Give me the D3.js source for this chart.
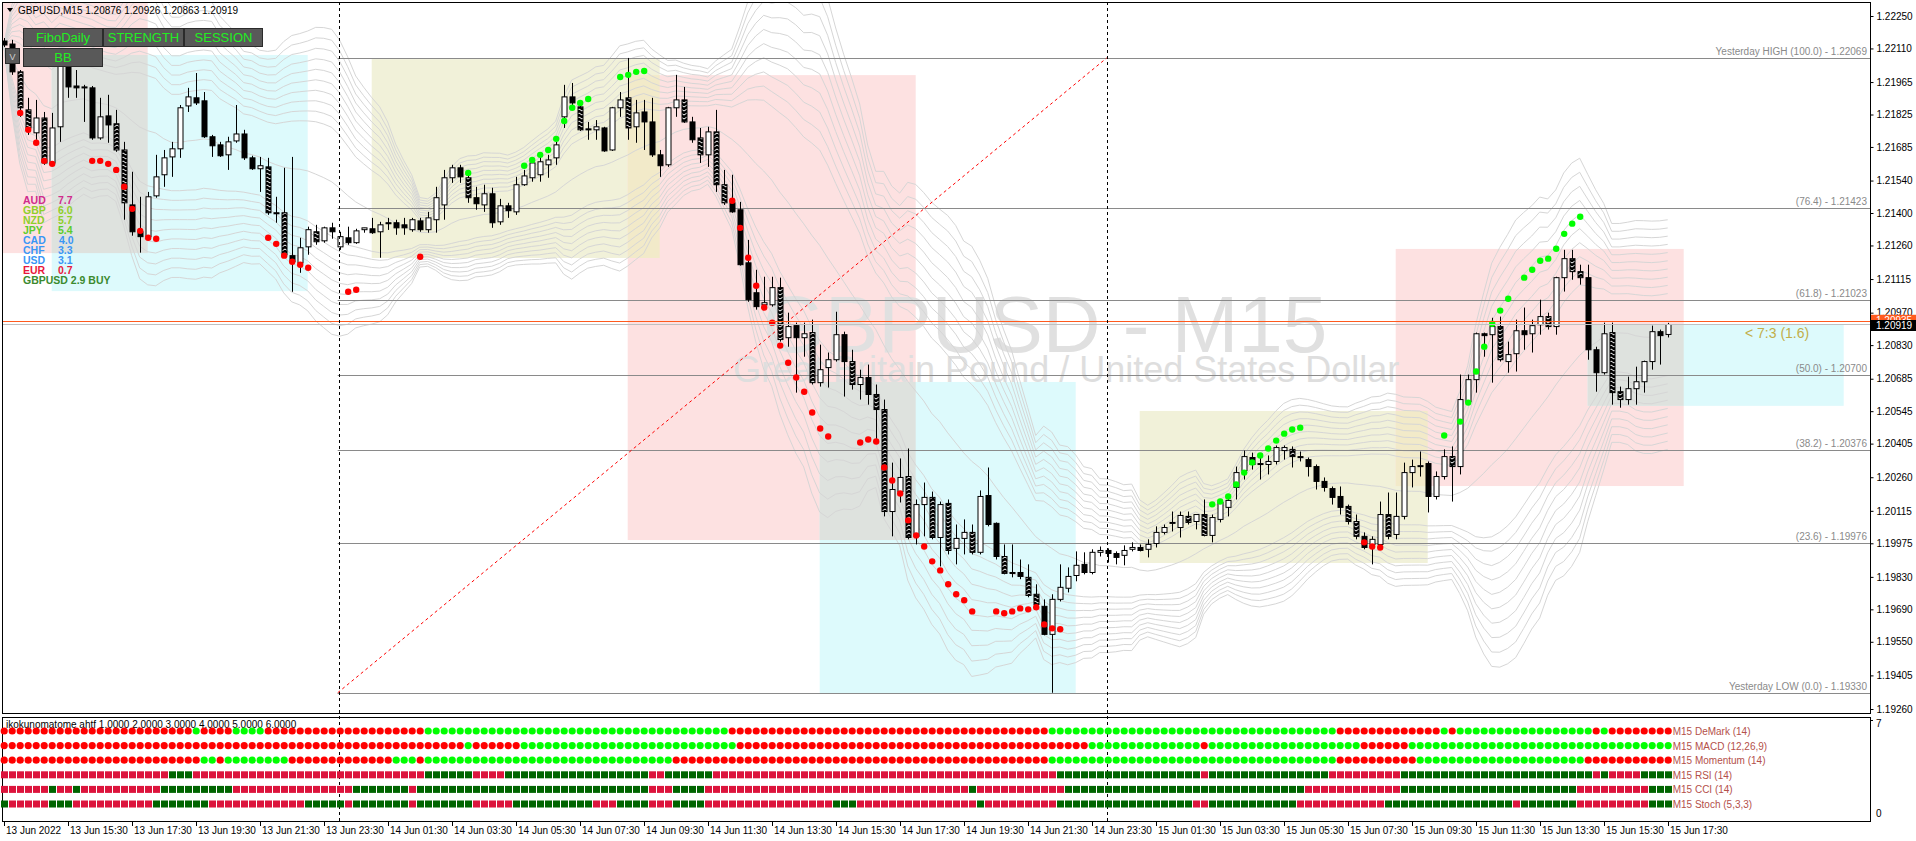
<!DOCTYPE html>
<html>
<head>
<meta charset="utf-8">
<script src="https://d3js.org/d3.v7.min.js"></script>
<style>
  body { margin: 0; background: #fff; }
  svg { display: block; font-family: "Liberation Sans", Arial, sans-serif; }
</style>
</head>
<body>
<script>
// GBPUSD M15, one bar per 15 minutes, bar 0 = 13 Jun 13:30, bar 208 = 15 Jun 17:30
// [open, high, low, close]
const candles = [
 [1.22142,1.22155,1.22116,1.22125],[1.22129,1.22147,1.21996,1.22009],[1.22009,1.22017,1.21815,1.21854],[1.21845,1.21897,1.21737,1.21767],
 [1.21746,1.21888,1.21716,1.21810],[1.21810,1.21836,1.21608,1.21616],[1.21616,1.21832,1.21608,1.21767],[1.21772,1.22095,1.21707,1.22052],
 [1.22043,1.22082,1.21897,1.21944],[1.21948,1.22017,1.21897,1.21940],[1.21944,1.21953,1.21793,1.21940],[1.21940,1.21948,1.21716,1.21724],
 [1.21724,1.21897,1.21716,1.21815],[1.21819,1.21910,1.21703,1.21780],[1.21785,1.21845,1.21664,1.21672],[1.21672,1.21707,1.21371,1.21444],
 [1.21435,1.21578,1.21302,1.21319],[1.21319,1.21470,1.21229,1.21298],[1.21298,1.21491,1.21293,1.21470],[1.21474,1.21651,1.21466,1.21556],
 [1.21565,1.21672,1.21513,1.21638],[1.21642,1.21707,1.21556,1.21677],[1.21677,1.21866,1.21638,1.21854],[1.21862,1.21940,1.21836,1.21901],
 [1.21897,1.22004,1.21866,1.21875],[1.21884,1.21922,1.21724,1.21729],[1.21729,1.21737,1.21642,1.21690],[1.21694,1.21707,1.21642,1.21647],
 [1.21651,1.21729,1.21586,1.21707],[1.21711,1.21866,1.21703,1.21741],[1.21741,1.21759,1.21629,1.21638],[1.21638,1.21647,1.21586,1.21591],
 [1.21591,1.21642,1.21491,1.21604],[1.21599,1.21638,1.21392,1.21401],[1.21401,1.21470,1.21358,1.21397],[1.21401,1.21595,1.21207,1.21220],
 [1.21216,1.21642,1.21060,1.21190],[1.21185,1.21293,1.21142,1.21250],[1.21254,1.21341,1.21220,1.21328],[1.21319,1.21349,1.21263,1.21276],
 [1.21280,1.21341,1.21272,1.21336],[1.21336,1.21358,1.21289,1.21319],[1.21254,1.21319,1.21241,1.21298],[1.21293,1.21341,1.21263,1.21272],
 [1.21272,1.21332,1.21267,1.21323],[1.21328,1.21336,1.21315,1.21336],[1.21332,1.21379,1.21310,1.21315],[1.21319,1.21362,1.21207,1.21349],
 [1.21358,1.21379,1.21327,1.21354],[1.21358,1.21371,1.21306,1.21336],[1.21349,1.21379,1.21306,1.21336],[1.21328,1.21379,1.21319,1.21371],
 [1.21366,1.21379,1.21319,1.21328],[1.21328,1.21405,1.21315,1.21379],[1.21371,1.21513,1.21315,1.21466],[1.21435,1.21586,1.21371,1.21552],
 [1.21552,1.21608,1.21530,1.21595],[1.21595,1.21608,1.21530,1.21556],[1.21552,1.21560,1.21444,1.21466],[1.21466,1.21513,1.21414,1.21440],
 [1.21435,1.21522,1.21405,1.21483],[1.21483,1.21509,1.21336,1.21358],[1.21362,1.21461,1.21349,1.21431],[1.21431,1.21444,1.21379,1.21410],
 [1.21405,1.21556,1.21392,1.21522],[1.21522,1.21586,1.21517,1.21560],[1.21552,1.21638,1.21535,1.21616],[1.21565,1.21651,1.21535,1.21621],
 [1.21608,1.21651,1.21552,1.21629],[1.21638,1.21707,1.21608,1.21694],[1.21815,1.21953,1.21767,1.21901],[1.21901,1.21961,1.21845,1.21875],
 [1.21858,1.21875,1.21754,1.21759],[1.21763,1.21793,1.21716,1.21759],[1.21759,1.21801,1.21716,1.21772],[1.21767,1.21772,1.21664,1.21668],
 [1.21672,1.21858,1.21668,1.21854],[1.21854,1.21922,1.21815,1.21888],[1.21897,1.22069,1.21716,1.21767],[1.21772,1.21888,1.21703,1.21832],
 [1.21836,1.21888,1.21672,1.21793],[1.21793,1.21897,1.21642,1.21651],[1.21651,1.21672,1.21556,1.21604],[1.21608,1.21858,1.21599,1.21854],
 [1.21854,1.21996,1.21815,1.21888],[1.21888,1.21944,1.21789,1.21793],[1.21793,1.21815,1.21703,1.21716],[1.21724,1.21767,1.21616,1.21651],
 [1.21651,1.21772,1.21599,1.21750],[1.21750,1.21845,1.21491,1.21522],[1.21522,1.21586,1.21435,1.21444],[1.21444,1.21565,1.21401,1.21405],
 [1.21414,1.21448,1.21173,1.21177],[1.21185,1.21284,1.21017,1.21026],[1.21056,1.21155,1.20983,1.20996],[1.21004,1.21125,1.20983,1.21013],
 [1.21004,1.21125,1.20996,1.21078],[1.21078,1.21121,1.20845,1.20854],[1.20862,1.20970,1.20823,1.20910],[1.20914,1.20927,1.20625,1.20862],
 [1.20862,1.20927,1.20780,1.20879],[1.20884,1.20940,1.20660,1.20668],[1.20668,1.20832,1.20651,1.20724],[1.20733,1.20798,1.20647,1.20767],
 [1.20767,1.20974,1.20759,1.20875],[1.20875,1.20888,1.20608,1.20759],[1.20759,1.20810,1.20638,1.20660],[1.20660,1.20724,1.20595,1.20690],
 [1.20690,1.20746,1.20573,1.20617],[1.20617,1.20660,1.20423,1.20552],[1.20552,1.20595,1.20091,1.20112],[1.20112,1.20323,1.20005,1.20207],
 [1.20198,1.20341,1.20151,1.20259],[1.20263,1.20384,1.19992,1.20000],[1.20005,1.20164,1.19970,1.20142],[1.20142,1.20237,1.20005,1.20173],
 [1.20173,1.20198,1.19992,1.20000],[1.20000,1.20155,1.19875,1.20142],[1.20147,1.20164,1.19927,1.19944],[1.19953,1.20056,1.19884,1.19996],
 [1.19996,1.20078,1.19927,1.20022],[1.20022,1.20056,1.19927,1.19936],[1.19936,1.20203,1.19927,1.20177],[1.20181,1.20302,1.20048,1.20056],
 [1.20061,1.20065,1.19905,1.19918],[1.19918,1.19970,1.19841,1.19845],[1.19845,1.19970,1.19828,1.19849],[1.19849,1.19905,1.19820,1.19832],
 [1.19828,1.19884,1.19742,1.19750],[1.19755,1.19798,1.19707,1.19711],[1.19703,1.19733,1.19578,1.19582],[1.19582,1.19755,1.19330,1.19733],
 [1.19733,1.19884,1.19724,1.19785],[1.19781,1.19871,1.19763,1.19832],[1.19836,1.19940,1.19811,1.19880],[1.19884,1.19936,1.19841,1.19849],
 [1.19849,1.19949,1.19841,1.19936],[1.19936,1.19961,1.19918,1.19944],[1.19944,1.19953,1.19892,1.19931],[1.19931,1.19940,1.19884,1.19914],
 [1.19923,1.19966,1.19880,1.19944],[1.19949,1.19979,1.19940,1.19957],[1.19957,1.19970,1.19940,1.19944],[1.19949,1.19992,1.19914,1.19970],
 [1.19974,1.20048,1.19957,1.20022],[1.20022,1.20056,1.20013,1.20043],[1.20061,1.20112,1.20026,1.20065],[1.20043,1.20112,1.20000,1.20095],
 [1.20091,1.20112,1.20056,1.20065],[1.20069,1.20099,1.20035,1.20099],[1.20099,1.20164,1.20005,1.20009],[1.20009,1.20099,1.19979,1.20086],
 [1.20078,1.20164,1.20065,1.20151],[1.20130,1.20186,1.20091,1.20160],[1.20216,1.20306,1.20164,1.20280],[1.20289,1.20375,1.20250,1.20349],
 [1.20345,1.20366,1.20293,1.20315],[1.20315,1.20345,1.20250,1.20319],[1.20315,1.20354,1.20272,1.20328],[1.20328,1.20397,1.20315,1.20388],
 [1.20375,1.20397,1.20336,1.20388],[1.20380,1.20393,1.20302,1.20349],[1.20349,1.20371,1.20328,1.20345],[1.20336,1.20345,1.20263,1.20306],
 [1.20306,1.20315,1.20207,1.20242],[1.20242,1.20259,1.20198,1.20216],[1.20211,1.20220,1.20142,1.20173],[1.20177,1.20220,1.20099,1.20130],
 [1.20134,1.20142,1.20056,1.20069],[1.20069,1.20099,1.19992,1.20005],[1.20005,1.20022,1.19949,1.19957],[1.19970,1.20005,1.19884,1.19992],
 [1.19970,1.20155,1.19961,1.20099],[1.20099,1.20194,1.19992,1.20005],[1.20013,1.20194,1.19992,1.20091],[1.20091,1.20323,1.20078,1.20280],
 [1.20280,1.20336,1.20216,1.20306],[1.20306,1.20371,1.20263,1.20310],[1.20319,1.20328,1.20108,1.20177],[1.20177,1.20285,1.20164,1.20263],
 [1.20263,1.20380,1.20250,1.20349],[1.20349,1.20393,1.20155,1.20306],[1.20306,1.20703,1.20272,1.20595],[1.20586,1.20703,1.20573,1.20681],
 [1.20681,1.20884,1.20625,1.20879],[1.20879,1.20884,1.20780,1.20871],[1.20875,1.20948,1.20668,1.20910],[1.20910,1.20953,1.20759,1.20767],
 [1.20759,1.20845,1.20711,1.20789],[1.20793,1.20940,1.20716,1.20892],[1.20892,1.20992,1.20810,1.20875],[1.20879,1.20940,1.20798,1.20914],
 [1.20918,1.21026,1.20875,1.20953],[1.20953,1.20970,1.20897,1.20910],[1.20910,1.21125,1.20875,1.21121],[1.21121,1.21241,1.21061,1.21203],
 [1.21203,1.21241,1.21112,1.21147],[1.21147,1.21177,1.21091,1.21121],[1.21121,1.21177,1.20767,1.20810],[1.20810,1.20823,1.20629,1.20711],
 [1.20711,1.20927,1.20703,1.20879],[1.20884,1.20927,1.20573,1.20625],[1.20629,1.20651,1.20560,1.20595],[1.20595,1.20694,1.20573,1.20642],
 [1.20642,1.20737,1.20573,1.20672],[1.20672,1.20763,1.20625,1.20759],[1.20759,1.20914,1.20724,1.20888],[1.20888,1.20897,1.20746,1.20871],
 [1.20876,1.20926,1.20863,1.20919]
];

// bars whose body is drawn hatched on the original
const hatchedBars = [2,3,5,14,15,33,35,39,58,72,78,85,87,89,90,97,101,106,109,110,113,116,118,121,125,128,129,148,150,161,168,169,173,181,187,193,196,197,201,202];

// trailing dots: [bar, price, colour]
const trailDots = [
 [2,1.21832,"r"],[3,1.21759,"r"],[4,1.21703,"r"],[5,1.21625,"r"],[6,1.21612,"r"],
 [11,1.21625,"r"],[12,1.21625,"r"],[13,1.21612,"r"],[14,1.21586,"r"],[15,1.21513,"r"],[16,1.21418,"r"],[17,1.21323,"r"],[18,1.21293,"r"],[19,1.21289,"r"],
 [33,1.21293,"r"],[34,1.21267,"r"],[35,1.21216,"r"],[36,1.21190,"r"],[37,1.21177,"r"],[38,1.21164,"r"],[43,1.21060,"r"],[44,1.21069,"r"],[52,1.21211,"r"],
 [58,1.21573,"g"],[65,1.21604,"g"],[66,1.21629,"g"],[67,1.21651,"g"],[68,1.21672,"g"],[69,1.21720,"g"],[70,1.21797,"g"],[71,1.21854,"g"],[72,1.21875,"g"],[73,1.21892,"g"],
 [77,1.21987,"g"],[78,1.21996,"g"],[79,1.22009,"g"],[80,1.22013,"g"],
 [91,1.21453,"r"],[92,1.21336,"r"],[93,1.21207,"r"],[94,1.21086,"r"],[95,1.20992,"r"],[96,1.20927,"r"],[97,1.20828,"r"],[98,1.20754,"r"],[99,1.20690,"r"],
 [100,1.20629,"r"],[101,1.20539,"r"],[102,1.20470,"r"],[103,1.20436,"r"],[107,1.20410,"r"],[108,1.20423,"r"],[109,1.20414,"r"],[110,1.20302,"r"],
 [111,1.20246,"r"],[112,1.20190,"r"],[113,1.20074,"r"],[114,1.20009,"r"],[115,1.19961,"r"],[116,1.19897,"r"],[117,1.19858,"r"],[118,1.19798,"r"],
 [119,1.19755,"r"],[120,1.19729,"r"],[121,1.19681,"r"],[124,1.19681,"r"],[125,1.19673,"r"],[126,1.19681,"r"],[127,1.19694,"r"],[128,1.19690,"r"],
 [129,1.19699,"r"],[130,1.19625,"r"],[131,1.19608,"r"],[132,1.19604,"r"],
 [151,1.20143,"g"],[152,1.20155,"g"],[153,1.20177,"g"],[154,1.20229,"g"],[155,1.20280,"g"],[156,1.20324,"g"],[157,1.20354,"g"],[158,1.20384,"g"],
 [159,1.20418,"g"],[160,1.20448,"g"],[161,1.20466,"g"],[162,1.20474,"g"],
 [170,1.19979,"r"],[171,1.19961,"r"],[172,1.19957,"r"],
 [180,1.20440,"g"],[182,1.20500,"g"],[183,1.20582,"g"],[184,1.20716,"g"],[185,1.20823,"g"],[186,1.20922,"g"],[187,1.20979,"g"],[188,1.21030,"g"],
 [190,1.21121,"g"],[191,1.21155,"g"],[192,1.21194,"g"],[193,1.21203,"g"],[194,1.21246,"g"],[195,1.21310,"g"],[196,1.21354,"g"],[197,1.21384,"g"]
];

// sessions (bar from, bar to, high, low, kind)
const sessFrom = [-1, 6, 46, 78, 102, 142, 174, 198];
const sessTo   = [18, 38, 82, 114, 134, 178, 210, 230];
const sessHigh = [1.22360, 1.22082, 1.22064, 1.21995, 1.20671, 1.20546, 1.21245, 1.20921];
const sessLow  = [1.21227, 1.21063, 1.21206, 1.19989, 1.19329, 1.19890, 1.20222, 1.20568];
const sessKind = ["london", "newyork", "tokyo", "london", "newyork", "tokyo", "london", "newyork"];

// daily fibo of yesterday
const fiboNames  = ["Yesterday HIGH (100.0)", "(76.4)", "(61.8)", "(50.0)", "(38.2)", "(23.6)", "Yesterday LOW (0.0)"];
const fiboPrices = [1.22069, 1.21423, 1.21023, 1.20700, 1.20376, 1.19976, 1.19330];

const priceTicks = [1.22250,1.22110,1.21965,1.21825,1.21685,1.21540,1.21400,1.21260,1.21115,1.20970,1.20830,
                    1.20685,1.20545,1.20405,1.20260,1.20115,1.19975,1.19830,1.19690,1.19550,1.19405,1.19260];
const timeLabels = ["13 Jun 2022","13 Jun 15:30","13 Jun 17:30","13 Jun 19:30","13 Jun 21:30","13 Jun 23:30",
  "14 Jun 01:30","14 Jun 03:30","14 Jun 05:30","14 Jun 07:30","14 Jun 09:30","14 Jun 11:30","14 Jun 13:30",
  "14 Jun 15:30","14 Jun 17:30","14 Jun 19:30","14 Jun 21:30","14 Jun 23:30","15 Jun 01:30","15 Jun 03:30",
  "15 Jun 05:30","15 Jun 07:30","15 Jun 09:30","15 Jun 11:30","15 Jun 13:30","15 Jun 15:30","15 Jun 17:30"];
const daySeparators = [42, 138];

// currency strength panel
const strengthNames  = ["AUD","GBP","NZD","JPY","CAD","CHF","USD","EUR"];
const strengthValues = [7.7, 6.0, 5.7, 5.4, 4.0, 3.3, 3.1, 0.7];
const strengthColors = ["#d02c8c","#8fcf2a","#8fcf2a","#5ccc2c","#3a96f5","#3a96f5","#3a96f5","#e8183c"];

// ikokunomatome rows, run lengths of r(ed)/g(reen) per bar
const rowNames = ["M15 DeMark (14)","M15 MACD (12,26,9)","M15 Momentum (14)","M15 RSI (14)","M15 CCI (14)","M15 Stoch (5,3,3)"];
const rowLevels = [6, 5, 4, 3, 2, 1];
const demarkRuns = [["r",24],["g",1],["r",4],["g",4],["r",20],["g",38],["r",40],["g",36],["r",13],["g",1],["r",1],["g",17],["r",1],["g",1],["r",8]];
const macdRuns   = [["r",58],["g",1],["r",6],["g",27],["r",44],["g",14],["r",1],["g",19],["r",6],["g",33]];
const momRuns    = [["r",25],["g",2],["r",1],["g",8],["r",13],["g",3],["r",1],["g",31],["r",47],["g",36],["r",10],["g",21],["r",11]];
const rsiRuns    = [["r",21],["g",3],["r",29],["g",6],["r",4],["g",18],["r",2],["g",6],["r",43],["g",18],["r",1],["g",15],["r",9],["g",24],["r",1],["g",1],["r",4],["g",4]];
const cciRuns    = [["r",6],["g",1],["r",2],["g",1],["r",10],["g",9],["r",15],["g",7],["r",1],["g",29],["r",3],["g",4],["r",33],["g",1],["r",11],["g",30],["r",12],["g",22],["r",9],["g",3]];
const stochRuns  = [["g",1],["r",5],["g",3],["r",10],["g",7],["r",12],["g",5],["r",1],["g",7],["r",1],["g",7],["r",5],["g",10],["r",3],["g",4],["r",3],["g",4],
                    ["r",16],["g",3],["r",15],["g",1],["r",9],["g",17],["r",2],["g",11],["r",11],["g",16],["r",1],["g",7],["r",9],["g",3]];

const bbDevs = [1.0, 1.2, 1.4, 1.6, 1.8, 2.0, 2.2, 2.4, 2.6, 2.8];
const bbPeriod = 20;

// ---------------------------------------------------------------
const W = 1916, H = 841;
const plotL = 2, plotR = 1870, mainT = 2, mainB = 713, subT = 717, subB = 821;

const svg = d3.select("body").append("svg").attr("width", W).attr("height", H);
svg.append("rect").attr("width", W).attr("height", H).attr("fill", "#fff");

const x = d3.scaleLinear().domain([0, 208]).range([3.7, 1667.7]);
const y = d3.scaleLinear().domain([1.19260, 1.22250]).range([709, 16]);
const yi = d3.scaleLinear().domain([0, 7]).range([818.6, 716.4]);
const fmt5 = d3.format(".5f");

const defs = svg.append("defs");
defs.append("clipPath").attr("id", "mainClip").append("rect")
  .attr("x", plotL).attr("y", mainT).attr("width", plotR - plotL).attr("height", mainB - mainT);
const hatch = defs.append("pattern").attr("id", "hatch").attr("patternUnits", "userSpaceOnUse")
  .attr("width", 6).attr("height", 4);
hatch.append("rect").attr("width", 6).attr("height", 4).attr("fill", "#000");
hatch.append("path").attr("d", "M0,3 L3,1 L6,3").attr("stroke", "#fff").attr("stroke-width", 1).attr("fill", "none");

const main = svg.append("g").attr("clip-path", "url(#mainClip)");

// session boxes
const sessColor = { london: "#fde1e1", newyork: "#ddfafc", tokyo: "#f1f1d9" };
const sessions = sessFrom.map((f, i) => ({ x0: x(f), x1: x(sessTo[i]), y0: y(sessHigh[i]), y1: y(sessLow[i]), kind: sessKind[i] }));
main.selectAll("rect.sess").data(sessions).enter().append("rect")
  .attr("x", d => d.x0).attr("y", d => d.y0)
  .attr("width", d => d.x1 - d.x0).attr("height", d => d.y1 - d.y0)
  .attr("fill", d => sessColor[d.kind]);
// overlapping parts get the mixed tint MT4 paints there
const overlaps = [];
sessions.forEach((a, i) => sessions.forEach((b, j) => {
  if (j <= i || a.kind === b.kind) return;
  const ox0 = Math.max(a.x0, b.x0), ox1 = Math.min(a.x1, b.x1);
  const oy0 = Math.max(a.y0, b.y0), oy1 = Math.min(a.y1, b.y1);
  if (ox1 > ox0 && oy1 > oy0) {
    const kinds = [a.kind, b.kind].sort().join("-");
    overlaps.push({ x0: ox0, x1: ox1, y0: oy0, y1: oy1, c: kinds === "london-tokyo" ? "#f2eac9" : "#dee2de" });
  }
}));
main.selectAll("rect.ovl").data(overlaps).enter().append("rect")
  .attr("x", d => d.x0).attr("y", d => d.y0)
  .attr("width", d => d.x1 - d.x0).attr("height", d => d.y1 - d.y0)
  .attr("fill", d => d.c);

// watermark
main.append("text").attr("x", 1045).attr("y", 352).attr("text-anchor", "middle")
  .attr("font-size", 80).attr("fill", "#e0e0e0").text("GBPUSD - M15");
main.append("text").attr("x", 733).attr("y", 382)
  .attr("font-size", 36).attr("fill", "#dedede").text("Great Britain Pound / United States Dollar");

// multi deviation bands
const closes = candles.map(d => d[3]);
const mids = closes.map((c, i) => d3.mean(closes.slice(Math.max(0, i - bbPeriod + 1), i + 1)));
const devs = closes.map((c, i) => d3.deviation(closes.slice(Math.max(0, i - bbPeriod + 1), i + 1)) || 0);
const bandLine = k => d3.line().x((d, i) => x(i)).y((d, i) => y(mids[i] + k * devs[i]));
const bandGroup = main.append("g").attr("fill", "none").attr("stroke", "#d6d6d6").attr("stroke-width", 1);
bandGroup.append("path").attr("d", bandLine(0)(closes));
bbDevs.forEach(k => {
  bandGroup.append("path").attr("d", bandLine(k)(closes));
  bandGroup.append("path").attr("d", bandLine(-k)(closes));
});

// fibo lines
const fiboX0 = x(daySeparators[0]) - 2;
main.selectAll("line.fibo").data(fiboPrices).enter().append("line")
  .attr("x1", fiboX0).attr("x2", plotR)
  .attr("y1", d => Math.round(y(d)) + 0.5).attr("y2", d => Math.round(y(d)) + 0.5)
  .attr("stroke", "#8a8a8a").attr("stroke-width", 1);
main.selectAll("text.fibo").data(fiboPrices).enter().append("text")
  .attr("x", plotR - 3).attr("y", d => Math.round(y(d)) - 3).attr("text-anchor", "end")
  .attr("font-size", 10).attr("fill", "#8a8a8a")
  .text((d, i) => `${fiboNames[i]} -  ${fmt5(d)}`);

// fibo trend line (yesterday low to high)
main.append("line")
  .attr("x1", fiboX0).attr("y1", y(fiboPrices[6]))
  .attr("x2", x(daySeparators[1]) - 1).attr("y2", y(fiboPrices[0]))
  .attr("stroke", "#ff0000").attr("stroke-width", 1).attr("stroke-dasharray", "3,3");

// day separators
svg.selectAll("line.day").data(daySeparators).enter().append("line")
  .attr("x1", d => Math.round(x(d)) - 0.5).attr("x2", d => Math.round(x(d)) - 0.5)
  .attr("y1", mainT).attr("y2", subB)
  .attr("stroke", "#000").attr("stroke-width", 1).attr("stroke-dasharray", "3,3");

// candles
const cg = main.append("g");
cg.selectAll("line.wick").data(candles).enter().append("line")
  .attr("x1", (d, i) => Math.round(x(i)) + 0.5).attr("x2", (d, i) => Math.round(x(i)) + 0.5)
  .attr("y1", d => y(d[1])).attr("y2", d => y(d[2]))
  .attr("stroke", "#000").attr("stroke-width", 1);
cg.selectAll("rect.body").data(candles).enter().append("rect")
  .attr("x", (d, i) => Math.round(x(i)) - 2)
  .attr("y", d => y(Math.max(d[0], d[3])))
  .attr("width", 5)
  .attr("height", d => Math.max(1, Math.abs(y(d[0]) - y(d[3]))))
  .attr("fill", (d, i) => d[3] >= d[0] ? "#fff" : (hatchedBars.includes(i) ? "url(#hatch)" : "#000"))
  .attr("stroke", "#000").attr("stroke-width", 1);

// trailing dots
main.selectAll("circle.trail").data(trailDots).enter().append("circle")
  .attr("cx", d => x(d[0]) + 0.5).attr("cy", d => y(d[1])).attr("r", 3.2)
  .attr("fill", d => d[2] === "r" ? "#ff0000" : "#00ff00");

// bid / ask lines
const last = candles[candles.length - 1];
const spread = 0.00016;
main.append("line").attr("x1", plotL).attr("x2", plotR)
  .attr("y1", Math.round(y(last[3])) + 0.5).attr("y2", Math.round(y(last[3])) + 0.5)
  .attr("stroke", "#c0c0c0");
main.append("line").attr("x1", plotL).attr("x2", plotR)
  .attr("y1", Math.round(y(last[3] + spread)) + 0.5).attr("y2", Math.round(y(last[3] + spread)) + 0.5)
  .attr("stroke", "#ff5a1e");

main.append("text").attr("x", 1745).attr("y", 338).attr("font-size", 14).attr("fill", "#c2ae48")
  .text("< 7:3 (1.6)");

// strength panel
const sp = svg.append("g").attr("font-weight", "bold").attr("font-size", 10.5);
sp.selectAll("text.cn").data(strengthNames).enter().append("text")
  .attr("x", 23).attr("y", (d, i) => 204 + i * 10).attr("fill", (d, i) => strengthColors[i]).text(d => d);
sp.selectAll("text.cv").data(strengthValues).enter().append("text")
  .attr("x", (d, i) => strengthNames[i] === "CAD" ? 59 : 58).attr("y", (d, i) => 204 + i * 10)
  .attr("fill", (d, i) => strengthColors[i]).text(d => d3.format(".1f")(d));
sp.append("text").attr("x", 23).attr("y", 284).attr("fill", "#3b8a2e").text("GBPUSD 2.9 BUY");

// buttons
const buttons = [
  { t: "FiboDaily", x: 23, y: 28, w: 79 }, { t: "STRENGTH", x: 103, y: 28, w: 80 },
  { t: "SESSION", x: 184, y: 28, w: 78 }, { t: "BB", x: 23, y: 48, w: 79 }
];
const bg = svg.append("g");
bg.selectAll("rect").data(buttons).enter().append("rect")
  .attr("x", d => d.x + 0.5).attr("y", d => d.y + 0.5).attr("width", d => d.w).attr("height", 18)
  .attr("fill", "#595959").attr("stroke", "#2b2b2b");
bg.selectAll("text").data(buttons).enter().append("text")
  .attr("x", d => d.x + d.w / 2 + 0.5).attr("y", d => d.y + 14).attr("text-anchor", "middle")
  .attr("font-size", 13).attr("fill", "#22ee22").text(d => d.t);
bg.append("rect").attr("x", 5.5).attr("y", 48.5).attr("width", 14).attr("height", 15)
  .attr("fill", "#595959").attr("stroke", "#2b2b2b");
bg.append("text").attr("x", 12.5).attr("y", 60).attr("text-anchor", "middle")
  .attr("font-size", 9).attr("fill", "#d0d0d0").text("V");

// header
svg.append("path").attr("d", "M7,8 L13,8 L10,12 Z").attr("fill", "#000");
svg.append("text").attr("x", 18).attr("y", 14).attr("font-size", 10).attr("fill", "#000")
  .text(`GBPUSD,M15  ${last.map(fmt5).join(" ")}`);

// frames
svg.append("rect").attr("x", plotL + 0.5).attr("y", mainT + 0.5).attr("width", plotR - plotL).attr("height", mainB - mainT)
  .attr("fill", "none").attr("stroke", "#000");
svg.append("rect").attr("x", plotL + 0.5).attr("y", subT + 0.5).attr("width", plotR - plotL).attr("height", subB - subT)
  .attr("fill", "none").attr("stroke", "#000");

// price axis
const yAxis = d3.axisRight(y).tickValues(priceTicks).tickSize(3).tickPadding(3).tickFormat(fmt5);
const ya = svg.append("g").attr("transform", `translate(${plotR + 0.5},0)`).call(yAxis);
ya.select(".domain").remove();
ya.selectAll("text").attr("font-size", 10).attr("font-family", "Liberation Sans, Arial, sans-serif").attr("fill", "#000");

// ask / bid price labels
svg.append("rect").attr("x", plotR + 1).attr("y", y(last[3] + spread) - 6).attr("width", 45).attr("height", 11).attr("fill", "#ff5a1e");
svg.append("text").attr("x", plotR + 6).attr("y", y(last[3] + spread) + 3).attr("font-size", 10).attr("fill", "#fff")
  .text(fmt5(last[3] + spread));
svg.append("rect").attr("x", plotR + 1).attr("y", y(last[3]) - 4.5).attr("width", 45).attr("height", 11).attr("fill", "#000");
svg.append("text").attr("x", plotR + 6).attr("y", y(last[3]) + 4.5).attr("font-size", 10).attr("fill", "#fff")
  .text(fmt5(last[3]));

// indicator window
const ig = svg.append("g");
ig.append("text").attr("x", 6).attr("y", 728).attr("font-size", 10).attr("fill", "#000")
  .text("ikokunomatome ahtf 1.0000 2.0000 3.0000 4.0000 5.0000 6.0000");
const expand = runs => runs.flatMap(([c, n]) => Array(n).fill(c));
const rows = [demarkRuns, macdRuns, momRuns, rsiRuns, cciRuns, stochRuns].map(expand);
rows.forEach((states, r) => {
  const cy = yi(rowLevels[r]);
  const g = ig.append("g");
  if (r < 3) {
    g.selectAll("circle").data(states.slice(0, candles.length)).enter().append("circle")
      .attr("cx", (d, i) => x(i) + 0.5).attr("cy", cy).attr("r", 3.6)
      .attr("fill", d => d === "r" ? "#ff0000" : "#00ff00");
  } else {
    g.selectAll("rect").data(states.slice(0, candles.length)).enter().append("rect")
      .attr("x", (d, i) => Math.round(x(i)) - 3).attr("y", cy - 3.5).attr("width", 7).attr("height", 7)
      .attr("fill", d => d === "r" ? "#dc143c" : "#006400");
  }
  g.append("text").attr("x", x(candles.length - 1) + 5).attr("y", cy + 4)
    .attr("font-size", 10).attr("fill", "#b4504a").text(rowNames[r]);
});
ig.append("line").attr("x1", plotR).attr("x2", plotR + 3).attr("y1", 720.5).attr("y2", 720.5).attr("stroke", "#000");
ig.append("text").attr("x", plotR + 6).attr("y", 727).attr("font-size", 10).text("7");
ig.append("text").attr("x", plotR + 6).attr("y", 817).attr("font-size", 10).text("0");

// time axis
const tg = svg.append("g");
tg.selectAll("line").data(timeLabels).enter().append("line")
  .attr("x1", (d, i) => Math.round(x(i * 8)) + 0.5).attr("x2", (d, i) => Math.round(x(i * 8)) + 0.5)
  .attr("y1", subB + 1).attr("y2", subB + 5).attr("stroke", "#000");
tg.selectAll("text").data(timeLabels).enter().append("text")
  .attr("x", (d, i) => Math.round(x(i * 8)) + 2).attr("y", 834)
  .attr("font-size", 10).attr("fill", "#000").text(d => d);
</script>
</body>
</html>
